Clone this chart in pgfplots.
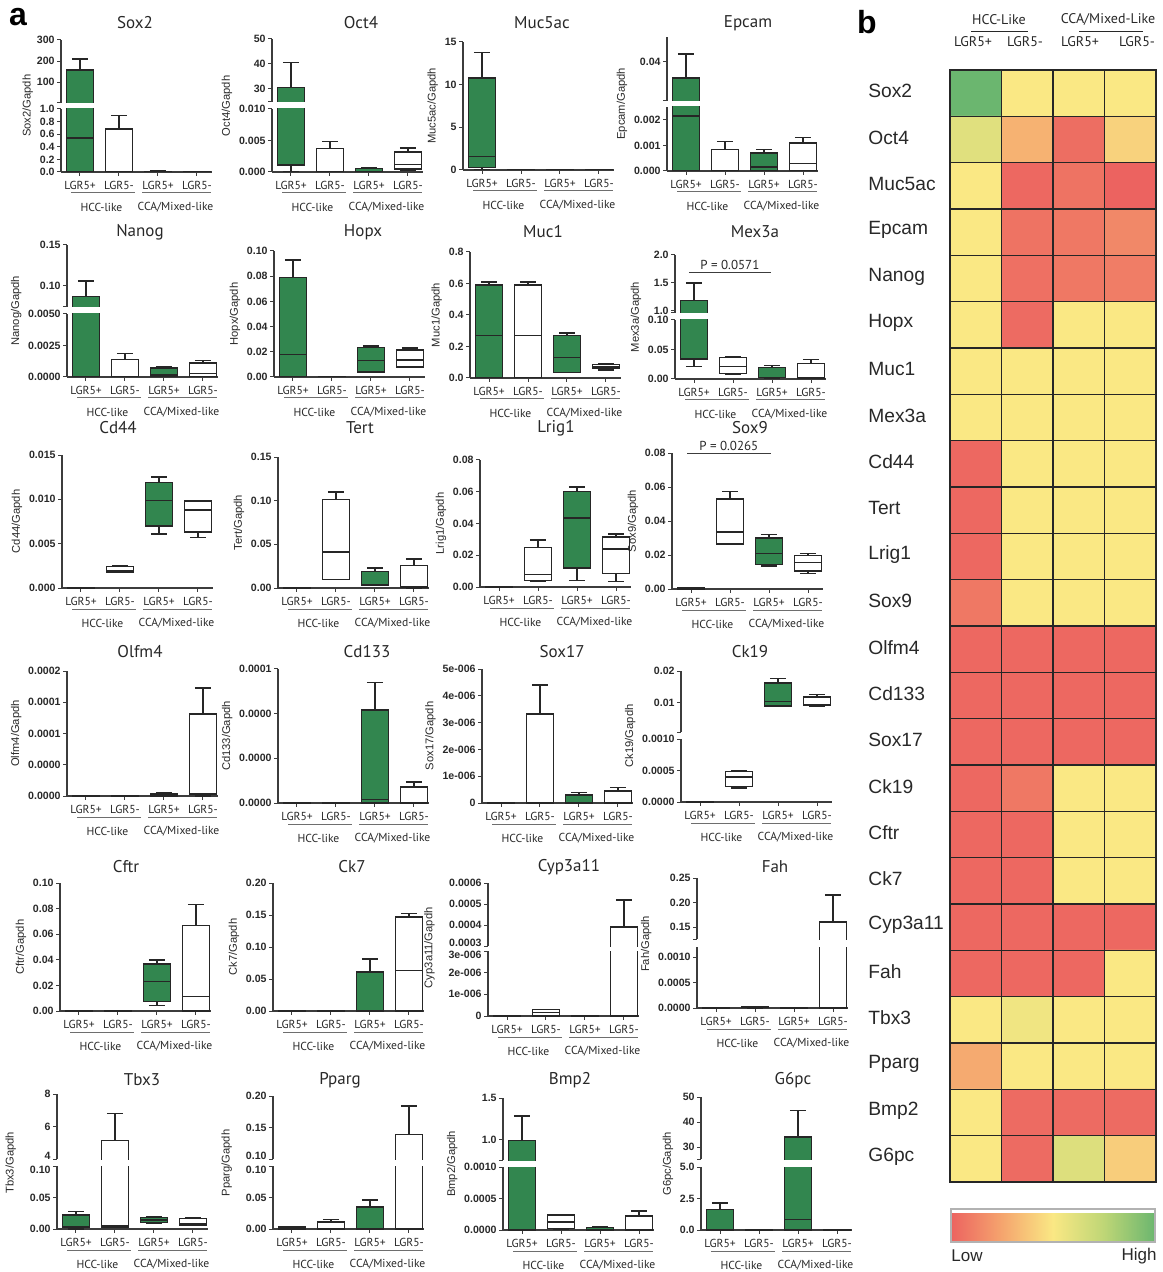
\documentclass[border=0pt]{standalone}
\usepackage{fontspec}
\setmainfont{Liberation Sans}
\newfontfamily\pts{PT Sans}
\usepackage{pgfplots}
\pgfplotsset{compat=1.18}
\definecolor{gfill}{RGB}{50,134,79}
\definecolor{axc}{RGB}{60,60,60}
\definecolor{txc}{RGB}{40,40,40}
\definecolor{grpc}{RGB}{110,110,110}
\newcommand\tk{\bfseries\fontsize{5.3}{6}\selectfont}
\newcommand\cat{\pts\fontsize{5.8}{6.8}\selectfont}
\newcommand\ttl{\pts\fontsize{8.5}{10}\selectfont}
\newcommand\yl{\fontsize{5.6}{6.5}\selectfont}
\pgfplotsset{
  place/.code n args={3}{%
    \pgfmathsetmacro\tmpx{#1*0.5}\pgfmathsetmacro\tmpy{-#2*0.5}\pgfmathsetmacro\tmph{(#2-#3)*0.5}%
    \edef\tmpk{\noexpand\pgfkeysalso{at={(\tmpx pt,\tmpy pt)},anchor=south west,height=\tmph pt}}\tmpk},
  common/.style={scale only axis, width=75.5pt, xmin=0.513, xmax=4.385, scaled ticks=false, clip mode=individual,
    unbounded coords=jump,
    axis line style={-, draw=axc, line width=0.6pt}, tick style={draw=axc, line width=0.5pt},
    tick align=outside, major tick length=1.8pt,
    yticklabel style={font=\tk, text=txc, inner sep=1.2pt}},
  pan/.style={common, ymin=0, axis x line*=bottom, axis y line*=left, xtick={1,2,3,4},
    xticklabels={LGR5+,LGR5-,LGR5+,LGR5-}, xticklabel style={font=\cat, text=txc, inner sep=1pt, yshift=-1.5pt},
    ylabel style={font=\yl, text=txc, inner sep=0pt}, ylabel shift=2pt},
  upan/.style={common, axis x line=none, axis y line*=left, xtick=\empty, extra y tick labels={}},
  brk/.style={ylabel style={at={(ticklabel cs:1.05)}}},
  topdown/.style={extra y tick style={yticklabel style={yshift=-1.8pt}}},
  botup/.style={extra y tick style={yticklabel style={yshift=1.8pt}}},
  bxl/.style={draw=black!85, line width=0.7pt},
}
% one box: position, lower whisker, lower quartile, median, upper quartile, upper whisker, fill
\newcommand\bx[7]{%
  \pgfmathsetmacro\bxL{#1-0.345}\pgfmathsetmacro\bxR{#1+0.345}%
  \pgfmathsetmacro\bcL{#1-0.21}\pgfmathsetmacro\bcR{#1+0.21}%
  \edef\bxcmd{%
    \noexpand\addplot[bxl] coordinates {(#1,#2) (#1,#6) (\bcL,nan) (\bcL,#6) (\bcR,#6) (\bcL,nan) (\bcL,#2) (\bcR,#2)};
    \noexpand\addplot[bxl, fill=#7] coordinates {(\bxL,#3) (\bxR,#3) (\bxR,#5) (\bxL,#5)} --cycle;
    \noexpand\addplot[bxl] coordinates {(\bxL,#4) (\bxR,#4)};}%
  \bxcmd}
\newcommand\gb[6]{\bx{#1}{#2}{#3}{#4}{#5}{#6}{gfill}}
\newcommand\wb[6]{\bx{#1}{#2}{#3}{#4}{#5}{#6}{white}}
\newcommand\grp{%
  \draw[grpc, line width=0.5pt] ([yshift=-10.5pt]axis cs:0.77,0) -- ([yshift=-10.5pt]axis cs:2.41,0);
  \draw[grpc, line width=0.5pt] ([yshift=-10.5pt]axis cs:2.59,0) -- ([yshift=-10.5pt]axis cs:4.36,0);
  \node[font=\cat, text=txc] at ([yshift=-17.5pt]axis cs:1.55,0) {HCC-like};
  \node[font=\cat, text=txc] at ([yshift=-17.5pt]axis cs:3.45,0) {CCA/Mixed-like};}
% data: position, lower whisker, lower quartile, median, upper quartile, upper whisker
% (...l = the same boxes as seen in the lower part of a broken axis, cut just above it)
\newcommand\dA{\gb{1}{0}{0}{0.54}{158}{210}\wb{2}{0}{0}{0}{0.68}{0.90}\gb{3}{0}{0}{0.005}{0.012}{0.015}\wb{4}{0}{0}{0.003}{0.006}{0.008}}
\newcommand\dAl{\gb{1}{0}{0}{0.54}{1.5}{1.5}\wb{2}{0}{0}{0}{0.68}{0.90}\gb{3}{0}{0}{0.005}{0.012}{0.015}\wb{4}{0}{0}{0.003}{0.006}{0.008}}
\newcommand\dB{\gb{1}{0}{0.0011}{0.0011}{30.5}{40.5}\wb{2}{0}{0}{0}{0.0037}{0.0048}\gb{3}{0}{0}{0}{0.0006}{0.0007}\wb{4}{0.0003}{0.0005}{0.0012}{0.0032}{0.0038}}
\newcommand\dBl{\gb{1}{0}{0.0011}{0.0011}{0.015}{0.015}\wb{2}{0}{0}{0}{0.0037}{0.0048}\gb{3}{0}{0}{0}{0.0006}{0.0007}\wb{4}{0.0003}{0.0005}{0.0012}{0.0032}{0.0038}}
\newcommand\dC{\gb{1}{0}{0.3}{1.6}{10.8}{13.8}\wb{2}{0}{0}{0}{0.02}{0.03}\gb{3}{0}{0}{0}{0.02}{0.03}\wb{4}{0}{0}{0}{0.02}{0.03}}
\newcommand\dD{\gb{1}{0}{0}{0.00215}{0.030}{0.045}\wb{2}{0}{0}{0}{0.00085}{0.00115}\gb{3}{0}{0}{0.00015}{0.0007}{0.00085}\wb{4}{0}{0}{0.0003}{0.0011}{0.0013}}
\newcommand\dDl{\gb{1}{0}{0}{0.00215}{0.0037}{0.0037}\wb{2}{0}{0}{0}{0.00085}{0.00115}\gb{3}{0}{0}{0.00015}{0.0007}{0.00085}\wb{4}{0}{0}{0.0003}{0.0011}{0.0013}}
\newcommand\dE{\gb{1}{0}{0}{0}{0.0866}{0.106}\wb{2}{0}{0}{0}{0.0014}{0.00185}\gb{3}{0}{0}{0.00015}{0.0007}{0.00085}\wb{4}{0.00005}{0.00005}{0.0003}{0.0011}{0.0013}}
\newcommand\dEl{\gb{1}{0}{0}{0}{0.0075}{0.0075}\wb{2}{0}{0}{0}{0.0014}{0.00185}\gb{3}{0}{0}{0.00015}{0.0007}{0.00085}\wb{4}{0.00005}{0.00005}{0.0003}{0.0011}{0.0013}}
\newcommand\dF{\gb{1}{0}{0}{0.018}{0.079}{0.093}\wb{2}{0}{0}{0}{0.0003}{0.0004}\gb{3}{0.0035}{0.004}{0.013}{0.0235}{0.0245}\wb{4}{0.0075}{0.008}{0.0135}{0.0215}{0.023}}
\newcommand\dG{\gb{1}{0}{0.005}{0.27}{0.59}{0.61}\wb{2}{0}{0.005}{0.27}{0.59}{0.61}\gb{3}{0.035}{0.035}{0.13}{0.27}{0.285}\wb{4}{0.05}{0.06}{0.07}{0.085}{0.09}}
\newcommand\dH{\gb{1}{0.021}{0.034}{0.034}{1.18}{1.5}\wb{2}{0.008}{0.009}{0.021}{0.036}{0.038}\gb{3}{0}{0.003}{0.003}{0.019}{0.023}\wb{4}{0}{0.002}{0.003}{0.026}{0.033}}
\newcommand\dHl{\gb{1}{0.021}{0.034}{0.034}{0.15}{0.15}\wb{2}{0.008}{0.009}{0.021}{0.036}{0.038}\gb{3}{0}{0.003}{0.003}{0.019}{0.023}\wb{4}{0}{0.002}{0.003}{0.026}{0.033}}
\newcommand\dI{\gb{1}{0}{0}{0}{0.00002}{0.00003}\wb{2}{0.0018}{0.0018}{0.002}{0.0024}{0.0025}\gb{3}{0.0061}{0.007}{0.0099}{0.0119}{0.0125}\wb{4}{0.0057}{0.0063}{0.0088}{0.0098}{0.0099}}
\newcommand\dJ{\gb{1}{0}{0}{0}{0.0003}{0.0005}\wb{2}{0.01}{0.01}{0.041}{0.101}{0.11}\gb{3}{0.003}{0.003}{0.004}{0.019}{0.023}\wb{4}{0}{0.001}{0.002}{0.026}{0.033}}
\newcommand\dK{\gb{1}{0}{0}{0}{0.0002}{0.0003}\wb{2}{0.0035}{0.004}{0.008}{0.025}{0.0295}\gb{3}{0.004}{0.012}{0.0435}{0.06}{0.063}\wb{4}{0.0035}{0.0085}{0.024}{0.0315}{0.0335}}
\newcommand\dL{\gb{1}{0}{0}{0.0003}{0.0006}{0.0008}\wb{2}{0.0265}{0.0265}{0.0335}{0.053}{0.0575}\gb{3}{0.0135}{0.0145}{0.021}{0.030}{0.032}\wb{4}{0.009}{0.0105}{0.0155}{0.0198}{0.021}}
\newcommand\dM{\gb{1}{0}{0}{0}{0.0000005}{0.000001}\wb{2}{0}{0}{0}{0.0000005}{0.000001}\gb{3}{0}{0}{0.000002}{0.000004}{0.000005}\wb{4}{0}{0.000002}{0.000003}{0.000131}{0.000173}}
\newcommand\dN{\gb{1}{0}{0}{0}{0.0000003}{0.0000005}\wb{2}{0}{0}{0}{0.0000003}{0.0000005}\gb{3}{0}{0}{0.0000025}{0.0000625}{0.000081}\wb{4}{0}{0}{0}{0.0000107}{0.000014}}
\newcommand\dO{\gb{1}{0}{0}{0}{0.00000001}{0.00000002}\wb{2}{0}{0}{0}{0.00000332}{0.0000044}\gb{3}{0}{0}{0}{0.0000003}{0.0000004}\wb{4}{0}{0}{0}{0.00000045}{0.00000058}}
\newcommand\dP{\gb{1}{0}{0}{0}{0.000005}{0.00001}\wb{2}{0.00022}{0.00025}{0.0004}{0.00048}{0.00049}\gb{3}{0.009}{0.0091}{0.0105}{0.0162}{0.0177}\wb{4}{0.009}{0.0093}{0.0096}{0.0118}{0.0126}}
\newcommand\dPl{\gb{1}{0}{0}{0}{0.000005}{0.00001}\wb{2}{0.00022}{0.00025}{0.0004}{0.00048}{0.00049}}
\newcommand\dQ{\gb{1}{0}{0}{0}{0.0002}{0.0003}\wb{2}{0}{0}{0}{0.0002}{0.0003}\gb{3}{0.0041}{0.0073}{0.0229}{0.0367}{0.0398}\wb{4}{0}{0}{0.0112}{0.0666}{0.0833}}
\newcommand\dR{\gb{1}{0}{0}{0}{0.0003}{0.0005}\wb{2}{0}{0}{0}{0.0003}{0.0005}\gb{3}{0}{0}{0}{0.061}{0.081}\wb{4}{0}{0}{0.063}{0.147}{0.152}}
\newcommand\dS{\gb{1}{0}{0}{0}{0.00000002}{0.00000003}\wb{2}{0}{0}{0.00000015}{0.00000029}{0.00000031}\gb{3}{0}{0}{0}{0.00000002}{0.00000003}\wb{4}{0}{0}{0}{0.00039}{0.00052}}
\newcommand\dSl{\gb{1}{0}{0}{0}{0.00000002}{0.00000003}\wb{2}{0}{0}{0.00000015}{0.00000029}{0.00000031}\gb{3}{0}{0}{0}{0.00000002}{0.00000003}\wb{4}{0}{0}{0}{0.0000045}{0.0000045}}
\newcommand\dT{\gb{1}{0}{0}{0}{0.000005}{0.00001}\wb{2}{0}{0.000005}{0.00001}{0.00002}{0.000025}\gb{3}{0}{0}{0}{0.000005}{0.00001}\wb{4}{0}{0}{0}{0.16}{0.215}}
\newcommand\dTl{\gb{1}{0}{0}{0}{0.000005}{0.00001}\wb{2}{0}{0.000005}{0.00001}{0.00002}{0.000025}\gb{3}{0}{0}{0}{0.000005}{0.00001}\wb{4}{0}{0}{0}{0.0018}{0.0018}}
\newcommand\dU{\gb{1}{0}{0.002}{0.003}{0.022}{0.028}\wb{2}{0.003}{0.003}{0.005}{5.14}{6.8}\gb{3}{0.009}{0.01}{0.014}{0.018}{0.02}\wb{4}{0.006}{0.006}{0.008}{0.017}{0.0185}}
\newcommand\dUl{\gb{1}{0}{0.002}{0.003}{0.022}{0.028}\wb{2}{0.003}{0.003}{0.005}{0.15}{0.15}\gb{3}{0.009}{0.01}{0.014}{0.018}{0.02}\wb{4}{0.006}{0.006}{0.008}{0.017}{0.0185}}
\newcommand\dV{\gb{1}{0}{0}{0}{0.003}{0.004}\wb{2}{0}{0}{0}{0.011}{0.015}\gb{3}{0}{0}{0}{0.035}{0.046}\wb{4}{0}{0}{0}{0.139}{0.184}}
\newcommand\dVl{\gb{1}{0}{0}{0}{0.003}{0.004}\wb{2}{0}{0}{0}{0.011}{0.015}\gb{3}{0}{0}{0}{0.035}{0.046}\wb{4}{0}{0}{0}{0.15}{0.15}}
\newcommand\dW{\gb{1}{0}{0}{0}{0.99}{1.286}\wb{2}{0.00001}{0.00002}{0.00013}{0.00024}{0.00025}\gb{3}{0}{0}{0}{0.00004}{0.00005}\wb{4}{0}{0}{0}{0.00022}{0.0003}}
\newcommand\dWl{\gb{1}{0}{0}{0}{0.0015}{0.0015}\wb{2}{0.00001}{0.00002}{0.00013}{0.00024}{0.00025}\gb{3}{0}{0}{0}{0.00004}{0.00005}\wb{4}{0}{0}{0}{0.00022}{0.0003}}
\newcommand\dX{\gb{1}{0}{0}{0}{1.65}{2.15}\wb{2}{0}{0}{0}{0.01}{0.02}\gb{3}{0}{0}{0.85}{34}{44.5}\wb{4}{0}{0}{0}{0.01}{0.02}}
\newcommand\dXl{\gb{1}{0}{0}{0}{1.65}{2.15}\wb{2}{0}{0}{0}{0.01}{0.02}\gb{3}{0}{0}{0.85}{7.5}{7.5}\wb{4}{0}{0}{0}{0.01}{0.02}}
\begin{document}
\begin{tikzpicture}
\path[use as bounding box] (0,0) rectangle (581pt,-636pt);
% ---------- Row 1
\begin{axis}[pan, brk, place={61}{172}{109}, ymax=1, ytick={0,0.2,0.4,0.6,0.8,1}, yticklabels={0.0,0.2,0.4,0.6,0.8,1.0}, ylabel={Sox2/Gapdh}]
\dAl \grp
\end{axis}
\begin{axis}[upan, place={61}{103}{40}, ymin=2, ymax=300, ytick={100,200,300}, yticklabels={100,200,300}, extra y ticks={2}]
\dA
\end{axis}
\begin{axis}[pan, brk, place={272}{172}{109}, ymax=0.01, ytick={0,0.005,0.01}, yticklabels={0.000,0.005,0.010}, ylabel={Oct4/Gapdh}]
\dBl \grp
\end{axis}
\begin{axis}[upan, place={272}{102}{39}, ymin=24.8, ymax=50, ytick={30,40,50}, yticklabels={30,40,50}, extra y ticks={24.8}]
\dB
\end{axis}
\begin{axis}[pan, place={463}{170}{42}, ymax=15, ytick={0,5,10,15}, yticklabels={0,5,10,15}, ylabel={Muc5ac/Gapdh}]
\dC \grp
\end{axis}
\begin{axis}[pan, brk, place={667}{171}{107}, ymax=0.0025, ytick={0,0.001,0.002}, yticklabels={0.000,0.001,0.002}, ylabel={Epcam/Gapdh}]
\dDl \grp
\end{axis}
\begin{axis}[upan, place={667}{101}{37}, ymin=0.0156, ymax=0.0556, ytick={0.04}, yticklabels={0.04}, extra y ticks={0.0156}]
\dD
\end{axis}
% ---------- Row 2
\begin{axis}[pan, brk, place={67}{377}{314}, ymax=0.005, ytick={0,0.0025,0.005}, yticklabels={0.0000,0.0025,0.0050}, ylabel={Nanog/Gapdh}]
\dEl \grp
\end{axis}
\begin{axis}[upan, place={67}{307}{245}, ymin=0.074, ymax=0.15, ytick={0.1,0.15}, yticklabels={0.10,0.15}, extra y ticks={0.074}]
\dE
\end{axis}
\begin{axis}[pan, place={274}{377}{251}, ymax=0.1, ytick={0,0.02,0.04,0.06,0.08,0.1}, yticklabels={0.00,0.02,0.04,0.06,0.08,0.10}, ylabel={Hopx/Gapdh}]
\dF \grp
\end{axis}
\begin{axis}[pan, place={470}{378}{252}, ymax=0.8, ytick={0,0.2,0.4,0.6,0.8}, yticklabels={0.0,0.2,0.4,0.6,0.8}, ylabel={Muc1/Gapdh}]
\dG \grp
\end{axis}
\begin{axis}[pan, brk, place={675}{379}{320}, ymax=0.1, ytick={0,0.05,0.1}, yticklabels={0.00,0.05,0.10}, ylabel={Mex3a/Gapdh}]
\dHl \grp
\end{axis}
\begin{axis}[upan, place={675}{313}{255}, ymin=0.96, ymax=2, ytick={1,1.5,2}, yticklabels={1.0,1.5,2.0}, extra y ticks={0.96}]
\dH
\draw[axc, line width=0.5pt] (axis cs:0.87,1.69) -- (axis cs:2.97,1.69);
\node[font=\pts\fontsize{6.5}{7.5}\selectfont, text=txc, above, inner sep=1pt] at (axis cs:1.92,1.69) {P = 0.0571};
\end{axis}
% ---------- Row 3
\begin{axis}[pan, place={62}{588}{455}, ymax=0.015, ytick={0,0.005,0.01,0.015}, yticklabels={0.000,0.005,0.010,0.015}, ylabel={Cd44/Gapdh}]
\dI \grp
\end{axis}
\begin{axis}[pan, place={278}{588}{457}, ymax=0.15, ytick={0,0.05,0.1,0.15}, yticklabels={0.00,0.05,0.10,0.15}, ylabel={Tert/Gapdh}]
\dJ \grp
\end{axis}
\begin{axis}[pan, place={480}{587}{460}, ymax=0.08, ytick={0,0.02,0.04,0.06,0.08}, yticklabels={0.00,0.02,0.04,0.06,0.08}, ylabel={Lrig1/Gapdh}]
\dK \grp
\end{axis}
\begin{axis}[pan, place={672}{589}{453}, ymax=0.08, ytick={0,0.02,0.04,0.06,0.08}, yticklabels={0.00,0.02,0.04,0.06,0.08}, ylabel={Sox9/Gapdh}]
\dL \grp
\draw[axc, line width=0.5pt] (axis cs:0.9,0.08) -- (axis cs:3.05,0.08);
\node[font=\pts\fontsize{6.5}{7.5}\selectfont, text=txc, above, inner sep=1pt] at (axis cs:1.97,0.08) {P = 0.0265};
\end{axis}
% ---------- Row 4
\begin{axis}[pan, place={67}{796}{671}, ymax=0.0002, ytick={0,0.00005,0.0001,0.00015,0.0002}, yticklabels={0.0000,0.0000,0.0001,0.0001,0.0002}, ylabel={Olfm4/Gapdh}]
\dM \grp
\end{axis}
\begin{axis}[pan, place={278}{803}{669}, ymax=0.00009, ytick={0,0.00003,0.00006,0.00009}, yticklabels={0.0000,0.0000,0.0000,0.0001}, ylabel={Cd133/Gapdh}]
\dN \grp
\end{axis}
\begin{axis}[pan, place={482}{803}{669}, ymax=0.000005, ytick={0,0.000001,0.000002,0.000003,0.000004,0.000005}, yticklabels={0,1e-006,2e-006,3e-006,4e-006,5e-006}, ylabel={Sox17/Gapdh}]
\dO \grp
\end{axis}
\begin{axis}[pan, brk, place={681}{802}{739}, ymax=0.001, ytick={0,0.0005,0.001}, yticklabels={0.0000,0.0005,0.0010}, ylabel={Ck19/Gapdh}]
\dPl \grp
\end{axis}
\begin{axis}[upan, place={681}{732}{671}, ymin=0.0009, ymax=0.02, ytick={0.01,0.02}, yticklabels={0.01,0.02}, extra y ticks={0.0009}]
\dP
\end{axis}
% ---------- Row 5
\begin{axis}[pan, place={60}{1011}{883}, ymax=0.1, ytick={0,0.02,0.04,0.06,0.08,0.1}, yticklabels={0.00,0.02,0.04,0.06,0.08,0.10}, ylabel={Cftr/Gapdh}]
\dQ \grp
\end{axis}
\begin{axis}[pan, place={273}{1011}{883}, ymax=0.2, ytick={0,0.05,0.1,0.15,0.2}, yticklabels={0.00,0.05,0.10,0.15,0.20}, ylabel={Ck7/Gapdh}]
\dR \grp
\end{axis}
\begin{axis}[pan, brk, topdown, place={488}{1016}{951}, ymax=0.000003, ytick={0,0.000001,0.000002}, yticklabels={0,1e-006,2e-006}, extra y ticks={0.000003}, extra y tick labels={3e-006}, ylabel={Cyp3a11/Gapdh}]
\dSl \grp
\end{axis}
\begin{axis}[upan, botup, place={488}{946}{883}, ymin=0.0003, ymax=0.0006, ytick={0.0004,0.0005,0.0006}, yticklabels={0.0004,0.0005,0.0006}, extra y ticks={0.0003}, extra y tick labels={0.0003}]
\dS
\end{axis}
\begin{axis}[pan, brk, place={697}{1008}{947}, ymax=0.0012, ytick={0,0.0005,0.001}, yticklabels={0.0000,0.0005,0.0010}, ylabel={Fah/Gapdh}]
\dTl \grp
\end{axis}
\begin{axis}[upan, place={697}{939}{878}, ymin=0.1255, ymax=0.25, ytick={0.15,0.2,0.25}, yticklabels={0.15,0.20,0.25}, extra y ticks={0.1255}]
\dT
\end{axis}
% ---------- Row 6
\begin{axis}[pan, brk, topdown, place={57}{1229}{1166}, ymax=0.1, ytick={0,0.05}, yticklabels={0.00,0.05}, extra y ticks={0.1}, extra y tick labels={0.10}, ylabel={Tbx3/Gapdh}]
\dUl \grp
\end{axis}
\begin{axis}[upan, botup, place={57}{1159}{1094}, ymin=4, ymax=8, ytick={6,8}, yticklabels={6,8}, extra y ticks={4}, extra y tick labels={4}]
\dU
\end{axis}
\begin{axis}[pan, brk, topdown, place={273}{1229}{1166}, ymax=0.1, ytick={0,0.05}, yticklabels={0.00,0.05}, extra y ticks={0.1}, extra y tick labels={0.10}, ylabel={Pparg/Gapdh}]
\dVl \grp
\end{axis}
\begin{axis}[upan, botup, place={273}{1159}{1096}, ymin=0.1, ymax=0.2, ytick={0.15,0.2}, yticklabels={0.15,0.20}, extra y ticks={0.1}, extra y tick labels={0.10}]
\dV
\end{axis}
\begin{axis}[pan, brk, place={503}{1230}{1167}, ymax=0.001, ytick={0,0.0005,0.001}, yticklabels={0.0000,0.0005,0.0010}, ylabel={Bmp2/Gapdh}]
\dWl \grp
\end{axis}
\begin{axis}[upan, place={503}{1160}{1098}, ymin=0.76, ymax=1.5, ytick={1,1.5}, yticklabels={1.0,1.5}, extra y ticks={0.76}]
\dW
\end{axis}
\begin{axis}[pan, brk, place={701}{1230}{1167}, ymax=5, ytick={0,2.5,5}, yticklabels={0.0,2.5,5.0}, ylabel={G6pc/Gapdh}]
\dXl \grp
\end{axis}
\begin{axis}[upan, place={701}{1159}{1097}, ymin=25.2, ymax=50, ytick={30,40,50}, yticklabels={30,40,50}, extra y ticks={25.2}]
\dX
\end{axis}
% ---------- Titles
\foreach \t/\x/\y in {Sox2/135/23, Oct4/361/23, Muc5ac/542/23, Epcam/748/23,
  Nanog/140/232, Hopx/363/232, Muc1/543/232, Mex3a/755/232,
  Cd44/118/428, Tert/360/428, Lrig1/556/428, Sox9/750/428,
  Olfm4/140/652, Cd133/367/652, Sox17/562/652, Ck19/750/652,
  Cftr/126/867, Ck7/352/867, Cyp3a11/569/867, Fah/775/867,
  Tbx3/142/1080, Pparg/340/1080, Bmp2/570/1080, G6pc/793/1080}
  {\node[font=\ttl, text=txc] at ({\x*0.5pt},{-\y*0.5pt}) {\t};}
\node[font=\bfseries\fontsize{16}{18}\selectfont] at (9pt,-8.5pt) {a};
\node[font=\bfseries\fontsize{16}{18}\selectfont] at (433.5pt,-11pt) {b};
% ---------- Heatmap
\begin{axis}[at={(475pt,-35pt)}, anchor=north west, scale only axis, width=103pt, height=556pt,
  xmin=0.5, xmax=4.5, ymin=0.5, ymax=24.5, y dir=reverse, enlargelimits=false,
  xtick={1.5,2.5,3.5}, ytick={1.5,2.5,...,23.5}, xticklabels={}, yticklabels={}, major tick length=0pt,
  grid=major, major grid style={draw=black!85, line width=0.6pt},
  axis line style={draw=black!85, line width=0.7pt}, axis on top,
  colormap={heat}{rgb255=(236,99,96) rgb255=(245,165,110) rgb255=(250,232,132) rgb255=(190,214,118) rgb255=(107,182,111)},
  point meta min=0, point meta max=1,
  colorbar horizontal,
  colorbar style={at={(parent axis.south west)}, anchor=north west, xshift=0.5pt, yshift=-5pt,
    scale only axis, width=102pt, height=16.5pt, xtick=\empty, ytick=\empty, grid=none,
    axis line style={draw=black!30, line width=0.6pt}}]
\addplot[matrix plot*, mesh/cols=4, point meta=explicit] table[meta=c] {
x y c
1 1 1.0
2 1 0.5
3 1 0.5
4 1 0.5
1 2 0.61
2 2 0.3
3 2 0.04
4 2 0.42
1 3 0.5
2 3 0.02
3 3 0.06
4 3 0.0
1 4 0.5
2 4 0.06
3 4 0.08
4 4 0.14
1 5 0.5
2 5 0.05
3 5 0.08
4 5 0.1
1 6 0.5
2 6 0.03
3 6 0.5
4 6 0.5
1 7 0.5
2 7 0.5
3 7 0.5
4 7 0.5
1 8 0.5
2 8 0.5
3 8 0.5
4 8 0.5
1 9 0.02
2 9 0.5
3 9 0.5
4 9 0.5
1 10 0.02
2 10 0.5
3 10 0.5
4 10 0.5
1 11 0.02
2 11 0.5
3 11 0.5
4 11 0.5
1 12 0.08
2 12 0.5
3 12 0.5
4 12 0.5
1 13 0.02
2 13 0.02
3 13 0.02
4 13 0.02
1 14 0.02
2 14 0.02
3 14 0.02
4 14 0.02
1 15 0.02
2 15 0.02
3 15 0.02
4 15 0.02
1 16 0.02
2 16 0.08
3 16 0.5
4 16 0.5
1 17 0.02
2 17 0.02
3 17 0.5
4 17 0.5
1 18 0.02
2 18 0.02
3 18 0.5
4 18 0.5
1 19 0.02
2 19 0.02
3 19 0.02
4 19 0.02
1 20 0.02
2 20 0.02
3 20 0.02
4 20 0.5
1 21 0.5
2 21 0.54
3 21 0.5
4 21 0.5
1 22 0.27
2 22 0.5
3 22 0.5
4 22 0.5
1 23 0.5
2 23 0.03
3 23 0.03
4 23 0.03
1 24 0.5
2 24 0.03
3 24 0.62
4 24 0.4
};
\end{axis}
\foreach \n [count=\i] in {Sox2,Oct4,Muc5ac,Epcam,Nanog,Hopx,Muc1,Mex3a,Cd44,Tert,Lrig1,Sox9,Olfm4,Cd133,Sox17,Ck19,Cftr,Ck7,Cyp3a11,Fah,Tbx3,Pparg,Bmp2,G6pc}
  {\node[anchor=west, font=\fontsize{9.6}{11}\selectfont, text=txc, inner sep=0pt] at (434pt,{-(34+23.1667*(\i-0.5))*1pt}) {\n};}
\node[font=\pts\fontsize{7}{8}\selectfont, text=txc] at (499.5pt,-10pt) {HCC-Like};
\node[font=\pts\fontsize{7}{8}\selectfont, text=txc] at (554pt,-10pt) {CCA/Mixed-Like};
\draw[txc, line width=0.5pt] (485.5pt,-16pt) -- (514pt,-16pt);
\draw[txc, line width=0.5pt] (539.5pt,-16pt) -- (571.5pt,-16pt);
\node[font=\pts\fontsize{7}{8}\selectfont, text=txc] at (486.5pt,-21pt) {LGR5+};
\node[font=\pts\fontsize{7}{8}\selectfont, text=txc] at (512.5pt,-21pt) {LGR5-};
\node[font=\pts\fontsize{7}{8}\selectfont, text=txc] at (540pt,-21pt) {LGR5+};
\node[font=\pts\fontsize{7}{8}\selectfont, text=txc] at (568.5pt,-21pt) {LGR5-};
\node[anchor=west, font=\fontsize{8.5}{10}\selectfont, text=txc, inner sep=0pt] at (475.5pt,-628pt) {Low};
\node[anchor=east, font=\fontsize{8.5}{10}\selectfont, text=txc, inner sep=0pt] at (578.5pt,-628pt) {High};
\end{tikzpicture}
\end{document}
